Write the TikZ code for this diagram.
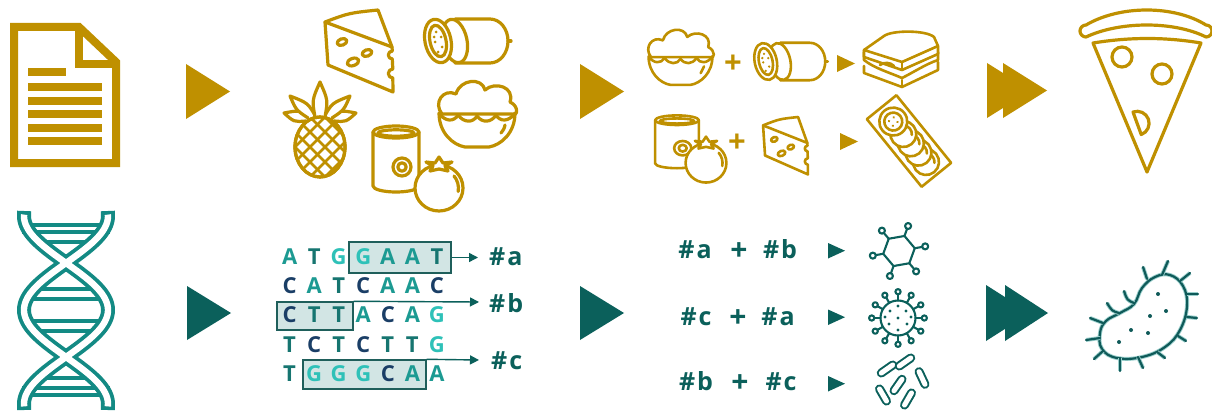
\documentclass[tikz,border=0pt]{standalone}
\usepackage{fontspec}
\setmainfont{Open Sans}
\usetikzlibrary{arrows.meta}

\definecolor{gold}{HTML}{BF9000}
\definecolor{tealdark}{HTML}{0B605B}
\definecolor{dnateal}{HTML}{138A84}
\definecolor{baseA}{HTML}{1C9A92}
\definecolor{baseT}{HTML}{167570}
\definecolor{baseG}{HTML}{2EC1B8}
\definecolor{baseC}{HTML}{1A3E66}
\definecolor{boxfill}{HTML}{D2E5E4}
\definecolor{boxline}{HTML}{1F5F5B}
\definecolor{microbe}{HTML}{0F5A59}
\definecolor{glow}{HTML}{9ACFCC}

\tikzset{
  goldicon/.style={gold, line width=3.2pt, line join=round, line cap=round},
  goldsmall/.style={gold, line width=2.6pt, line join=round, line cap=round},
  microline/.style={draw=tealdark, line width=2.1pt, line cap=round, line join=round},
  bact/.style={draw=microbe, line width=2.2pt, line cap=round, line join=round,
               preaction={draw=glow, line width=4pt}},
  dnarung/.style={draw=dnateal, fill=white, line width=3.6pt, line join=miter},
  seqletter/.style={anchor=base, inner sep=0pt, font=\fontsize{22}{22}\selectfont\bfseries},
  seqbox/.style={draw=boxline, fill=boxfill, line width=1.4pt, inner sep=0pt},
  seqarrow/.style={draw=tealdark, line width=1.4pt, -{Triangle[length=9pt,width=9pt]}},
  taglabel/.style={anchor=base west, inner sep=0pt, text=tealdark,
                   font=\fontsize{25}{25}\selectfont\bfseries},
  pairtext/.style={anchor=base, inner sep=0pt, text=tealdark,
                   font=\fontsize{25}{25}\selectfont\bfseries},
  pairplus/.style={anchor=base, inner sep=0pt, text=tealdark,
                   font=\fontsize{30}{30}\selectfont\bfseries},
  goldplus/.style={anchor=center, inner sep=0pt, text=gold,
                   font=\fontsize{31}{31}\selectfont\bfseries},
  capout/.style={draw=tealdark, line width=9pt, line cap=round},
  capin/.style={draw=white, line width=5pt, line cap=round},
  % food icons, drawn around their own centre, y pointing down
  cheese/.pic={
    \draw[fill=white] (-34,-28) .. controls (-10,-37) .. (19,-40) -- (33,-3)
      -- (33.3,1) arc[start angle=-90,end angle=-270,radius=4]
      -- (33.8,19) arc[start angle=-90,end angle=-270,radius=4.5]
      -- (34,42) -- (-31,15) -- cycle;
    \draw (-34,-28) -- (33,-3);
    \draw[rotate around={20:(-17,-8)}] (-17,-8) ellipse[x radius=5,y radius=3.2];
    \draw[rotate around={20:(8,3)}] (8,3) ellipse[x radius=5,y radius=3.2];
    \draw[rotate around={20:(-6,12)}] (-6,12) ellipse[x radius=6,y radius=3.6];
  },
  salami/.pic={
    \draw[fill=white] (-10,-22) -- (25,-22)
      arc[start angle=-90,end angle=90,x radius=18,y radius=22] -- (-10,22);
    \draw (43,0) -- (46,0);
    \draw[fill=white, rotate around={12:(-10,0)}] (-10,0) ellipse[x radius=12,y radius=22];
    \draw[fill=white, rotate around={12:(-27,0)}] (-27,0) ellipse[x radius=13,y radius=22];
    \draw[rotate around={12:(-27,0)}] (-27,0) ellipse[x radius=8,y radius=16];
    \foreach \px/\py in {-29/-9,-24/-4,-30/1,-23/6,-27/11,-25/-13,-31/-4}
      \fill (\px,\py) circle[radius=1.5];
  },
  bowl/.pic={
    \draw[fill=white] (-35,-1) .. controls (-44,-12) and (-34,-27) .. (-21,-21)
      .. controls (-17,-36) and (5,-38) .. (8,-25)
      .. controls (18,-34) and (38,-28) .. (33,-13)
      .. controls (42,-9) and (41,2) .. (35,-1) -- cycle;
    \draw[fill=white] (-38,-2) .. controls (-32,7) and (-23,7) .. (-19,0)
      .. controls (-13,8) and (-4,8) .. (0,1)
      .. controls (5,8) and (14,8) .. (19,0)
      .. controls (23,7) and (32,7) .. (38,-2)
      .. controls (38,18) and (24,30) .. (12,32) -- (-12,32)
      .. controls (-24,30) and (-38,18) .. (-38,-2) -- cycle;
    \draw (28,10) .. controls (27,14) .. (24,18);
  },
  can/.pic={
    \draw[fill=white] (-23,-26) -- (-23,28)
      arc[start angle=180,end angle=0,x radius=23,y radius=6] -- (23,-26);
    \draw[fill=white] (0,-26) ellipse[x radius=23,y radius=6];
    \draw (0,-25) ellipse[x radius=18,y radius=3.2];
    \draw (6,9) circle[radius=9];
    \draw (6,9) circle[radius=4.2];
  },
  tomato/.pic={
    \draw[fill=white] (0,0) ellipse[x radius=24,y radius=23];
    \draw[fill=white] (0,-19) -- (-9,-17) -- (-6,-22) -- (-13,-26) -- (-4,-25)
      -- (0,-31) -- (4,-25) -- (13,-26) -- (6,-22) -- (9,-17) -- cycle;
    \draw (15,-12) arc[start angle=-40,end angle=10,radius=19];
  },
  pineapple/.pic={
    \draw[fill=white] (-8,-12) .. controls (-20,-20) .. (-36,-17) .. controls (-26,-8) .. (-14,-9);
    \draw[fill=white] (8,-12) .. controls (20,-20) .. (36,-17) .. controls (26,-8) .. (14,-9);
    \draw[fill=white] (-4,-13) .. controls (-12,-27) .. (-30,-34) .. controls (-24,-20) .. (-12,-12);
    \draw[fill=white] (4,-13) .. controls (12,-27) .. (30,-34) .. controls (24,-20) .. (12,-12);
    \draw[fill=white] (-5,-13) .. controls (-8,-30) .. (0,-48) .. controls (8,-30) .. (5,-13);
    \draw[fill=white] (0,17) ellipse[x radius=25,y radius=30];
    \begin{scope}
      \clip (0,17) ellipse[x radius=25,y radius=30];
      \foreach \k in {-70,-55,...,70} {
        \draw[line width=2.6pt] ({\k-30},-13) -- ({\k+30},47);
        \draw[line width=2.6pt] ({\k+30},-13) -- ({\k-30},47);
      }
    \end{scope}
    \draw (0,17) ellipse[x radius=25,y radius=30];
  },
}

\begin{document}
\begin{tikzpicture}[x=1pt,y=-1pt]
\useasboundingbox (0,0) rectangle (1212,412);
\fill[white] (0,0) rectangle (1212,412);

% ---------------- upper row: recipe ----------------
% document
\draw[gold, line width=8pt, line join=miter] (14,27) -- (79,27) -- (116,62) -- (116,163) -- (14,163) -- cycle;
\draw[gold, line width=8pt] (79,27) -- (79,64) -- (116,64);
\fill[gold] (28,68.3) rectangle (66,76.3);
\foreach \yy in {82.7,96.7,110,124,137.3}
  \fill[gold] (28,\yy) rectangle (102,{\yy+8});

% step arrows
\fill[gold] (186,64) -- (186,119) -- (230,91.5) -- cycle;
\fill[gold] (580,64) -- (580,119) -- (624,91.5) -- cycle;
\fill[gold] (987,63) -- (987,118) -- (1031,90.5) -- cycle;
\fill[gold] (1003,63) -- (1003,118) -- (1047,90.5) -- cycle;

% ingredients
\pic[goldicon] at (320,130) {pineapple};
\pic[goldicon] at (359,50) {cheese};
\pic[goldicon] at (465,41) {salami};
\pic[goldicon] at (477,115) {bowl};
\pic[goldicon] at (396,158) {can};
\pic[goldicon] at (439,188) {tomato};

% combinations
\pic[goldsmall, scale=0.84] at (680.5,58) {bowl};
\node[goldplus] (gp1) at (733,64) {+};
\pic[goldsmall, scale=0.85] at (788.7,61.5) {salami};
\fill[gold] (837,55) -- (837,72) -- (855,63.5) -- cycle;

\pic[goldsmall, xscale=0.95, yscale=0.8] at (677,141) {can};
\pic[goldsmall, scale=0.85] at (706,163) {tomato};
\node[goldplus] (gp2) at (737,143) {+};
\pic[goldsmall, xscale=0.66, yscale=0.7] at (785.5,145) {cheese};
\fill[gold] (840,133) -- (840,150) -- (858,141.5) -- cycle;

% sandwich
\begin{scope}[goldsmall]
  \draw[fill=white] (864,66) -- (864,73) -- (902,87) -- (938,70) -- (938,62);
  \draw (902,80) -- (902,87);
  \draw[fill=white] (864,60) .. controls (874,68) and (888,72) .. (902,78)
    .. controls (914,72) and (926,64) .. (938,60) -- (938,52) -- (864,52) -- cycle;
  \draw[fill=white] (864,50) -- (864,57) -- (902,70) -- (938,54) -- (938,46);
  \draw (902,62) -- (902,70);
  \draw[fill=white] (864,50) -- (884,36) .. controls (892,30) and (926,30) .. (934,37)
    -- (938,46) -- (902,62) -- cycle;
  \draw (880,65) .. controls (884,62) and (890,62) .. (894,66);
\end{scope}

% tray of sliced tomatoes
\begin{scope}[goldsmall, shift={(909,141)}, rotate=-51]
  \draw[fill=white] (-43.5,-19) rectangle (43.5,19);
  \foreach \sx in {27,15,3,-9} {
    \draw[fill=white] (\sx,0) circle[radius=13];
    \draw ({\sx-6},-6) arc[start angle=225,end angle=315,radius=8.5];
  }
  \draw[fill=white] (-25,0) circle[radius=14];
  \draw (-25,0) circle[radius=9];
  \foreach \px/\py in {-28/-3,-22/-3,-28/3,-22/3}
    \fill (\px,\py) circle[radius=1.3];
\end{scope}

% pizza slice
\begin{scope}[goldicon]
  \draw (1086,25) .. controls (1120,5) and (1174,5) .. (1206,25)
    arc[start angle=-90,end angle=90,radius=6]
    .. controls (1174,21) and (1120,21) .. (1086,37)
    arc[start angle=90,end angle=270,radius=6] -- cycle;
  \draw (1093,43) .. controls (1130,37) and (1165,37) .. (1201,43) -- (1147,172) -- cycle;
  \draw (1122,57) circle[radius=10];
  \draw (1162,74) circle[radius=10];
  \draw (1133,112) arc[start angle=-110,end angle=70,radius=12] -- cycle;
\end{scope}

% ---------------- lower row: genome ----------------
% double helix
\draw[dnarung] (24,225) rectangle (108,232);
\draw[dnarung] (39,242) -- (93,242) -- (66,257) -- cycle;
\draw[dnarung] (66,269) -- (98,289) -- (34,289) -- cycle;
\draw[dnarung] (27,299) rectangle (105,321);
\draw[dnarung] (66,351) -- (98,331) -- (34,331) -- cycle;
\draw[dnarung] (39,378) -- (93,378) -- (66,363) -- cycle;
\draw[dnarung] (24,388) rectangle (108,395);
\foreach \lw/\cl/\ya/\yb in {14/dnateal/211/410, 6.4/white/214.6/406.4} {
  \draw[\cl, line width=\lw pt, line join=round]
    (24.2,\ya) -- plot[domain=216:404, samples=90] ({66-42*cos(1.91489*(\x-216))}, \x) -- (24.2,\yb);
  \draw[\cl, line width=\lw pt, line join=round]
    (107.8,\ya) -- plot[domain=216:404, samples=90] ({66+42*cos(1.91489*(\x-216))}, \x) -- (107.8,\yb);
}

% step arrows
\fill[tealdark] (187,286) -- (187,340) -- (231,313) -- cycle;
\fill[tealdark] (580,286) -- (580,340) -- (624,313) -- cycle;
\fill[tealdark] (986,285) -- (986,341) -- (1030,313) -- cycle;
\fill[tealdark] (1005,285) -- (1005,341) -- (1048,313) -- cycle;

% sequence with marked fragments
\node[seqbox, minimum width=102pt, minimum height=31pt] (b1) at (400,257.5) {};
\node[seqbox, minimum width=76pt, minimum height=28pt] (b3) at (315,316) {};
\node[seqbox, minimum width=123pt, minimum height=29pt] (b5) at (364.5,374.5) {};
\foreach \L [count=\i from 0] in {A,T,G,G,A,A,T, C,A,T,C,A,A,C, C,T,T,A,C,A,G, T,C,T,C,T,T,G, T,G,G,G,C,A,A}{
  \pgfmathsetmacro\cx{289.6+24.55*mod(\i,7)}
  \pgfmathsetmacro\cy{264.6+29.15*int(\i/7)}
  \node[seqletter, text=base\L] (s\i) at (\cx,\cy) {\L};
}
\node[taglabel] (ta) at (489,265) {\#\kern2pt a};
\node[taglabel] (tb) at (489,312) {\#\kern2pt b};
\node[taglabel] (tc) at (491,369) {\#\kern2pt c};
\coordinate (ea) at (478,257.5);
\coordinate (eb) at (479,302);
\coordinate (ec) at (479,360);
\draw[seqarrow] (b1.east) -- (ea);
\draw[seqarrow] (b3.north east) -- (eb);
\draw[seqarrow] (b5.north east) -- (ec);

% fragment pairs
\node[pairtext] (p1l) at (695,258) {\#\kern2pt a};
\node[pairplus] (p1p) at (739,260) {+};
\node[pairtext] (p1r) at (780,258) {\#\kern2pt b};
\node[pairtext] (p2l) at (696,325) {\#\kern2pt c};
\node[pairplus] (p2p) at (738,327) {+};
\node[pairtext] (p2r) at (778,325) {\#\kern2pt a};
\node[pairtext] (p3l) at (696,390) {\#\kern2pt b};
\node[pairplus] (p3p) at (740,392) {+};
\node[pairtext] (p3r) at (781,390) {\#\kern2pt c};
\fill[tealdark] (828,243) -- (828,258.5) -- (845,250.7) -- cycle;
\fill[tealdark] (828,309.5) -- (828,325) -- (845,317.2) -- cycle;
\fill[tealdark] (828,376) -- (828,391.5) -- (845,383.7) -- cycle;

% molecule
\begin{scope}[microline, shift={(899,251)}]
  \draw (-10:16) -- (50:16) -- (110:16) -- (170:16) -- (230:16) -- (290:16) -- cycle;
  \foreach \a in {-10,50,...,290} {
    \draw (\a:16) -- (\a:23.5);
    \draw (\a:26.6) circle[radius=3];
  }
\end{scope}

% virus
\begin{scope}[microline, shift={(898,318)}]
  \draw (0,0) circle[radius=17.5];
  \foreach \a in {0,30,...,330} {
    \draw (\a:17.5) -- (\a:23.5);
    \draw (\a:26.3) circle[radius=2.6];
  }
  \foreach \px/\py in {0/0,-8/-7,8/-7,-9/6,9/6,0/-12,0/12,-13/-1,13/-1}
    \fill[tealdark] (\px,\py) circle[radius=1.7];
\end{scope}

% bacilli
\foreach \cx/\cy/\ang in {887/369/35, 905/362/35, 898/385/55, 922/378/-65, 883/395/-60, 908/399/60} {
  \begin{scope}[shift={(\cx,\cy)}, rotate=\ang]
    \draw[capout] (-7,0) -- (7,0);
    \draw[capin] (-7,0) -- (7,0);
  \end{scope}
}

% bacterium
\draw[bact] plot[smooth cycle, tension=0.7] coordinates {(1142,288) (1155,277) (1170,275) (1183,286) (1187,306) (1180,330) (1165,347) (1142,357) (1117,358) (1102,349) (1100,333) (1106,321) (1120,313) (1134,304)};
\foreach \ax/\ay/\bx/\by in {1162/275/1168/261, 1147/279/1143/267, 1180/281/1190/273,
                   1187/294/1198/294, 1187/317/1197/318, 1178/336/1186/341,
                   1157/352/1165/358, 1138/357/1143/368, 1120/358/1120/371,
                   1103/351/1094/359, 1100/338/1086/340, 1103/323/1090/318}
  \draw[bact] (\ax,\ay) -- (\bx,\by);
\draw[bact] (1119,313) .. controls (1112,311) .. (1107,303);
\draw[bact] (1134,303) .. controls (1127,300) .. (1124,291);
\foreach \px/\py in {1158/294,1166/311,1150/316,1131/330,1148/333,1119/342}
  \fill[microbe] (\px,\py) circle[radius=2];
\end{tikzpicture}
\end{document}
